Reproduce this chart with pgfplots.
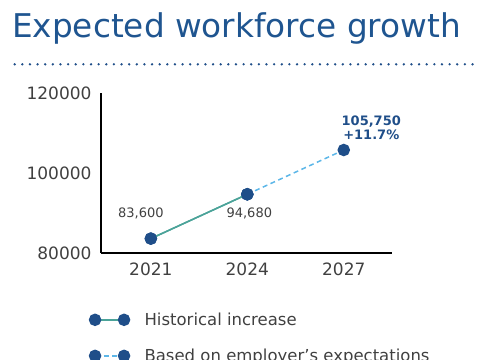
\documentclass[border=0pt]{standalone}
\usepackage{fontspec}
\setmainfont{DejaVu Sans}
\usepackage{pgfplots}
\pgfplotsset{compat=1.18}
\definecolor{titleblue}{HTML}{1F5590}
\definecolor{markblue}{HTML}{1F4E89}
\definecolor{histteal}{HTML}{4BA399}
\definecolor{projblue}{HTML}{5DB7E8}
\definecolor{txtgrey}{HTML}{404040}
\begin{document}
\begin{tikzpicture}
\clip (0,0) rectangle (485bp,-360bp);
\path[use as bounding box] (0,0) rectangle (485bp,-360bp);
\node[anchor=base west, inner sep=0, text=titleblue, font=\fontsize{32.7bp}{36bp}\selectfont] at (12bp,-37.5bp) {Expected workforce growth};
\draw[markblue, line width=2.6bp, line cap=round, dash pattern=on 0pt off 7.63bp] (14.7bp,-64.3bp) -- (473bp,-64.3bp);
\begin{axis}[
  at={(101bp,-253bp)}, anchor=origin,
  scale only axis, width=291bp, height=160bp,
  xmin=2019.45, xmax=2028.5, ymin=80000, ymax=120000,
  axis x line=bottom, axis y line=left,
  axis line style={-, black, line width=1.5bp},
  xtick={2021,2024,2027}, ytick={80000,100000,120000},
  scaled y ticks=false, scaled x ticks=false,
  major tick length=0pt,
  tick label style={text=txtgrey, font=\fontsize{17bp}{19bp}\selectfont, /pgf/number format/assume math mode=true, /pgf/number format/1000 sep={}, /pgf/number format/fixed},
  yticklabel style={xshift=-6bp},
  xticklabel style={yshift=-6bp},
  clip=false,
  legend cell align=left,
  legend style={draw=none, fill=none, at={(-0.04,-0.36)}, anchor=north west, inner sep=0pt,
    font=\fontsize{16.5bp}{18bp}\selectfont, text=txtgrey, row sep=18bp,
    nodes={inner sep=2bp},
    /tikz/every odd column/.append style={column sep=13bp}},
  legend image code/.code={\draw[#1] plot coordinates {(0bp,0bp) (29bp,0bp)};},
]
\addplot[histteal, line width=1.5bp, mark=*, mark size=5.5bp, mark options={solid, draw=markblue, fill=markblue}] coordinates {(2021,83600) (2024,94680)};
\addlegendentry{Historical increase}
\addplot[projblue, line width=1.5bp, dashed, dash pattern=on 5bp off 3.5bp, mark=*, mark size=5.5bp, mark options={solid, draw=markblue, fill=markblue}] coordinates {(2024,94680) (2027,105750)};
\addlegendentry{Based on employer’s expectations}
\addplot[histteal, line width=1.5bp, mark=*, mark size=5.5bp, mark options={solid, draw=markblue, fill=markblue}, forget plot] coordinates {(2021,83600) (2024,94680)};
\node[text=txtgrey, font=\fontsize{13bp}{15bp}\selectfont] at (axis cs:2021,83600) [xshift=-10bp, yshift=25bp] {83,600};
\node[text=txtgrey, font=\fontsize{13bp}{15bp}\selectfont] at (axis cs:2024,94680) [xshift=2bp, yshift=-19bp] {94,680};
\node[text=markblue, font=\bfseries\fontsize{13bp}{14.5bp}\selectfont, align=center] at (axis cs:2027,105750) [xshift=27.5bp, yshift=22bp] {105,750\\+11.7\%};
\end{axis}
\end{tikzpicture}
\end{document}
